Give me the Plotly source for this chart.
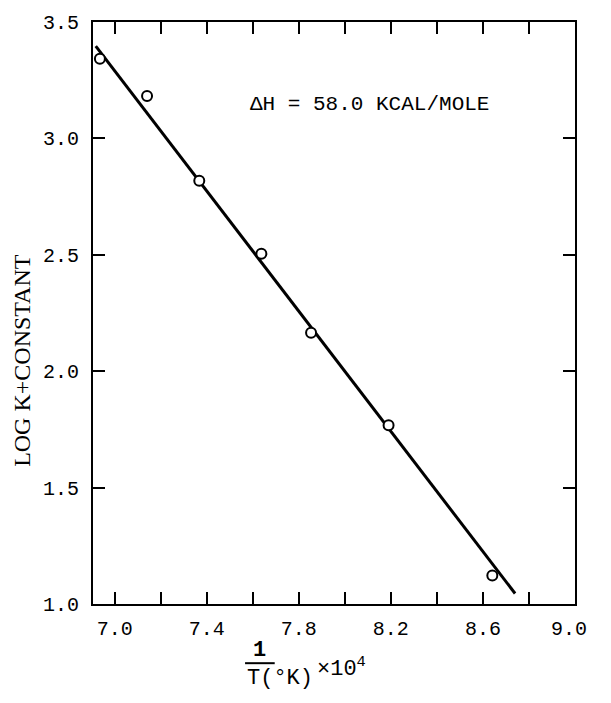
import plotly.graph_objects as go

# ---- data ----
inv_T = [6.935, 7.140, 7.367, 7.637, 7.853, 8.190, 8.641]      # 1/T(°K) x 10^4
log_k = [3.343, 3.183, 2.818, 2.505, 2.165, 1.768, 1.122]      # log K + constant
fit_x = [6.917, 8.740]
fit_y = [3.397, 1.045]

x_tickvals = [7.0, 7.2, 7.4, 7.6, 7.8, 8.0, 8.2, 8.4, 8.6, 8.8, 9.0]
x_ticktext = ["7.0", "", "7.4", "", "7.8", "", "8.2", "", "8.6", "", "9.0\u00a0"]
y_tickvals = [1.0, 1.5, 2.0, 2.5, 3.0, 3.5]
y_ticktext = ["1.0", "1.5", "2.0", "2.5", "3.0", "3.5"]

annot_text = "ΔH = 58.0 KCAL/MOLE"
y_title = "LOG K+CONSTANT"

MONO = "Liberation Mono, Courier New, monospace"
SERIF = "Liberation Serif, Times New Roman, serif"

fig = go.Figure()
fig.add_trace(go.Scatter(x=fit_x, y=fit_y, mode="lines",
                         line=dict(color="black", width=3), hoverinfo="skip"))
fig.add_trace(go.Scatter(x=inv_T, y=log_k, mode="markers",
                         marker=dict(symbol="circle", size=10, color="white",
                                     line=dict(color="black", width=2))))

axis_common = dict(showline=True, linewidth=2, linecolor="black", mirror="ticks",
                   ticks="inside", ticklen=12, tickwidth=1.5, tickcolor="black",
                   showgrid=False, zeroline=False,
                   tickfont=dict(family=MONO, size=20, color="black"))

fig.update_xaxes(range=[6.905, 9.0005], tickmode="array", tickvals=x_tickvals,
                 ticktext=x_ticktext, ticklabelstandoff=5,
                 ticklabeloverflow="allow", **axis_common)
fig.update_yaxes(range=[1.0, 3.5005], tickmode="array", tickvals=y_tickvals,
                 ticktext=y_ticktext, ticklabelstandoff=8, **axis_common)

fig.add_annotation(x=7.578, y=3.144, xref="x", yref="y", text=annot_text,
                   showarrow=False, xanchor="left", yanchor="middle",
                   font=dict(family=MONO, size=21, color="black"))

# y-axis title
fig.add_annotation(x=-0.147, y=0.418, xref="paper", yref="paper", text=y_title,
                   textangle=-90, showarrow=False, xanchor="center", yanchor="middle",
                   font=dict(family=SERIF, size=24, color="black"))

# x-axis title: fraction 1 / T(°K) x 10^4
def px_x(p):
    return (p - 93) / 504.0

def px_y(p):
    return (604 - p) / 590.0

fig.add_annotation(x=px_x(267), y=px_y(651), xref="paper", yref="paper", text="<b>1</b>",
                   showarrow=False, xanchor="center", yanchor="middle",
                   font=dict(family=MONO, size=22, color="black"))
fig.add_shape(type="line", xref="paper", yref="paper",
              x0=px_x(252), x1=px_x(283), y0=px_y(664), y1=px_y(664),
              line=dict(color="black", width=2))
fig.add_annotation(x=px_x(252), y=px_y(680), xref="paper", yref="paper", text="T(°K)",
                   showarrow=False, xanchor="left", yanchor="middle",
                   font=dict(family=MONO, size=22, color="black"))
fig.add_annotation(x=px_x(325), y=px_y(668), xref="paper", yref="paper",
                   text="×10<sup>4</sup>",
                   showarrow=False, xanchor="left", yanchor="middle",
                   font=dict(family=MONO, size=22, color="black"))

fig.update_layout(width=611, height=703, showlegend=False,
                  margin=dict(l=93, r=14, t=14, b=99),
                  plot_bgcolor="white", paper_bgcolor="white")

fig.write_html("out.html")
